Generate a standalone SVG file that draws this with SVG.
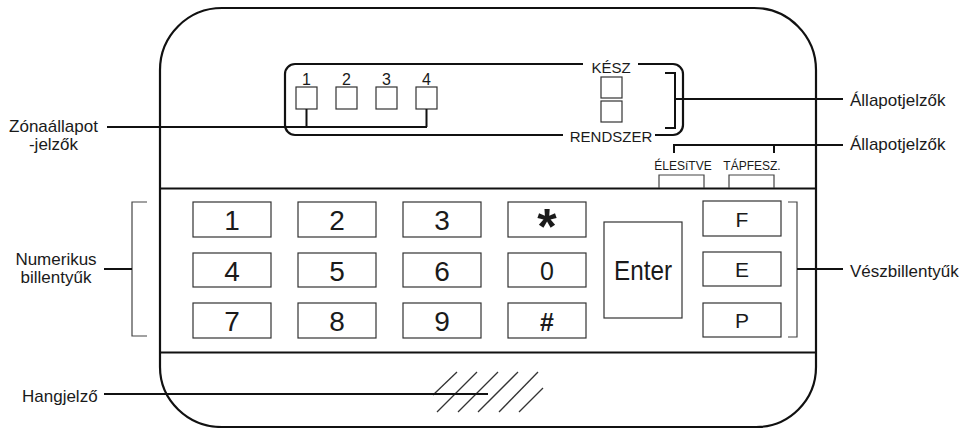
<svg xmlns="http://www.w3.org/2000/svg" width="966" height="428" viewBox="0 0 966 428">
<style>
text{font-family:"Liberation Sans",Arial,sans-serif;fill:#1a1a1a}
.lbl{font-size:17px}
.key{fill:#fff;stroke:#333;stroke-width:1.2}
.kt{font-size:28px;text-anchor:middle}
.ft{font-size:21px;text-anchor:middle}
.thick{fill:none;stroke:#111;stroke-width:2.2}
.thin{fill:none;stroke:#444;stroke-width:1.2}
.ld{fill:none;stroke:#111;stroke-width:2}
.led{fill:#fff;stroke:#333;stroke-width:1.2}
.hatch{stroke:#333;stroke-width:1.3}
.mid{text-anchor:middle}
</style>
<rect width="966" height="428" fill="#fff"/>
<g id="housing">
<path class="thick" d="M222,8 H754 A62,62 0 0 1 816,70 V367 A60,60 0 0 1 756,427 H222 A62,60 0 0 1 160,367 V70 A62,62 0 0 1 222,8 Z"/>
<line class="thick" x1="160" y1="188.5" x2="816" y2="188.5" stroke-width="2.6"/>
<line class="thick" x1="160" y1="352.5" x2="816" y2="352.5" stroke-width="2.6"/>
</g>
<g id="zone-panel">
<path class="thick" d="M583,64 H295 A10,10 0 0 0 285,74 V125 A10,10 0 0 0 295,135 H563"/>
<path class="thick" d="M638,64 H673 A10,10 0 0 1 683,74 V125 A10,10 0 0 1 673,135 H655"/>
<text x="611" y="73" font-size="15" class="mid">KÉSZ</text>
<text x="611" y="142" font-size="15" class="mid">RENDSZER</text>
<rect class="led" x="601" y="77" width="21" height="21"/>
<rect class="led" x="601" y="101" width="21" height="21"/>
</g>
<g id="zone-leds">
<rect class="led" x="296" y="87" width="21" height="22"/>
<rect class="led" x="336" y="87" width="21" height="22"/>
<rect class="led" x="376" y="87" width="21" height="22"/>
<rect class="led" x="416" y="87" width="21" height="22"/>
<text x="306.5" y="85" font-size="16" class="mid">1</text>
<text x="346.5" y="85" font-size="16" class="mid">2</text>
<text x="386.5" y="85" font-size="16" class="mid">3</text>
<text x="426.5" y="85" font-size="16" class="mid">4</text>
</g>
<g id="status-keys">
<path class="thin" d="M659,188 V175 H704 V188 M729,188 V175 H774 V188"/>
<text x="683" y="170" font-size="12" class="mid">ÉLESíTVE</text>
<text x="752" y="170" font-size="12" class="mid">TÁPFESZ.</text>
</g>
<g id="numeric-keys">
<rect class="key" x="193" y="202" width="78" height="35"/>
<rect class="key" x="298" y="202" width="78" height="35"/>
<rect class="key" x="403" y="202" width="78" height="35"/>
<rect class="key" x="508" y="202" width="78" height="35"/>
<rect class="key" x="193" y="253" width="78" height="34"/>
<rect class="key" x="298" y="253" width="78" height="34"/>
<rect class="key" x="403" y="253" width="78" height="34"/>
<rect class="key" x="508" y="253" width="78" height="34"/>
<rect class="key" x="193" y="303" width="78" height="35"/>
<rect class="key" x="298" y="303" width="78" height="35"/>
<rect class="key" x="403" y="303" width="78" height="35"/>
<rect class="key" x="508" y="303" width="78" height="35"/>
<text class="kt" x="232" y="230">1</text>
<text class="kt" x="337" y="230">2</text>
<text class="kt" x="442" y="230">3</text>
<text class="kt" x="547" y="244" style="font-size:50px;font-weight:bold">*</text>
<text class="kt" x="232" y="281">4</text>
<text class="kt" x="337" y="281">5</text>
<text class="kt" x="442" y="281">6</text>
<text class="kt" x="547" y="280" style="font-size:25px">0</text>
<text class="kt" x="232" y="331">7</text>
<text class="kt" x="337" y="331">8</text>
<text class="kt" x="442" y="331">9</text>
<text class="kt" x="547" y="331" style="font-size:25px;font-weight:bold">#</text>
</g>
<g id="enter-key">
<rect class="key" x="604" y="222" width="78" height="96"/>
<text class="kt" x="643" y="280" textLength="58" lengthAdjust="spacingAndGlyphs">Enter</text>
</g>
<g id="emergency-keys">
<rect class="key" x="703" y="201" width="78" height="35"/>
<rect class="key" x="703" y="252" width="78" height="34"/>
<rect class="key" x="703" y="303" width="78" height="34"/>
<text class="ft" x="742" y="227">F</text>
<text class="ft" x="742" y="277">E</text>
<text class="ft" x="742" y="328">P</text>
</g>
<g id="buzzer">
<line class="hatch" x1="433" y1="395" x2="457" y2="372"/>
<line class="hatch" x1="437" y1="412" x2="477" y2="372"/>
<line class="hatch" x1="458" y1="412" x2="498" y2="372"/>
<line class="hatch" x1="478" y1="412" x2="518" y2="372"/>
<line class="hatch" x1="499" y1="412" x2="538" y2="372"/>
<line class="hatch" x1="519" y1="412" x2="543" y2="388"/>
</g>
<g id="connectors">
<path class="ld" d="M306.5,109 V127 M426.5,109 V127 M107,127 H427"/>
<path class="ld" d="M665,73 H675 V128 H665 M675,99 H843"/>
<path class="ld" d="M674,153 V145 H843 M774,145 V153"/>
<path class="thin" d="M147,202 H132 V336 H147"/>
<path class="ld" d="M104,269 H132"/>
<path class="thin" d="M788,202 H797 V337 H788"/>
<path class="ld" d="M797,269 H843"/>
<path class="ld" d="M104,394 H488"/>
</g>
<g id="labels">
<text class="lbl mid" x="53.5" y="132">Zónaállapot</text>
<text class="lbl mid" x="53.5" y="150">-jelzők</text>
<text class="lbl mid" x="56" y="265">Numerikus</text>
<text class="lbl mid" x="56" y="283">billentyűk</text>
<text class="lbl" x="22" y="402">Hangjelző</text>
<text class="lbl" x="850" y="106">Állapotjelzők</text>
<text class="lbl" x="850" y="150">Állapotjelzők</text>
<text class="lbl" x="850" y="277">Vészbillentyűk</text>
</g>
</svg>
